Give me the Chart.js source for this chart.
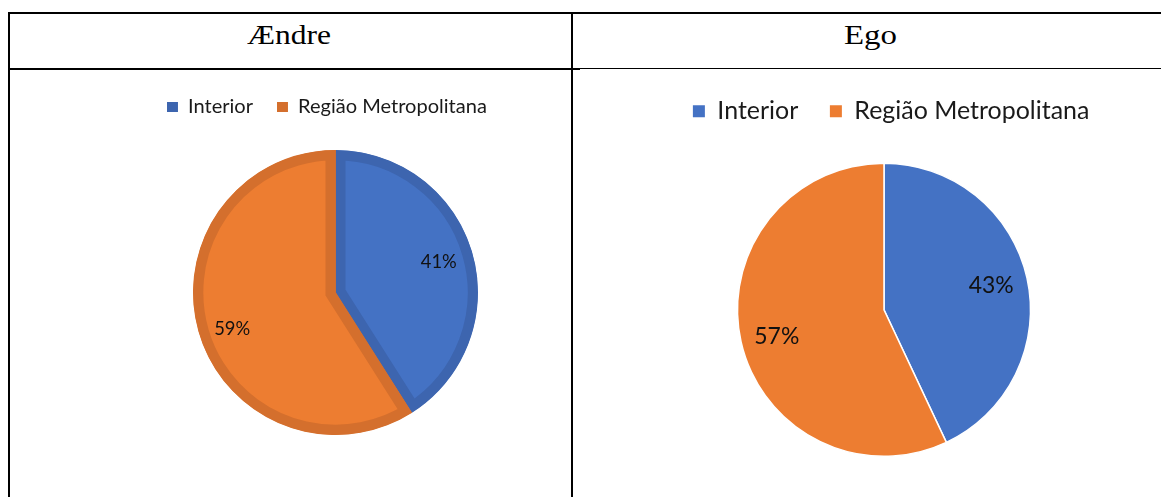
<!DOCTYPE html>
<html>
<head>
<meta charset="utf-8">
<script src="https://cdn.jsdelivr.net/npm/chart.js@4.4.0/dist/chart.umd.min.js"></script>
<style>
    body { margin: 0; background: #fff; width: 1161px; height: 497px; overflow: hidden; position: relative; }
    .ln { position: absolute; background: #000; }
    .hd { position: absolute; font-family: 'Liberation Serif', serif; font-size: 28px; color: #000; white-space: nowrap; transform-origin: 0 0; }
    canvas { position: absolute; }
</style>
</head>
<body>
<div class="ln" style="left:8px;top:12px;width:1153px;height:2px"></div>
<div class="ln" style="left:8px;top:12px;width:2px;height:485px"></div>
<div class="ln" style="left:571px;top:12px;width:2px;height:485px"></div>
<div class="ln" style="left:8px;top:68px;width:572px;height:2px"></div>
<div class="ln" style="left:580px;top:68px;width:581px;height:1px"></div>
<div class="hd" id="title-0"></div>
<div class="hd" id="title-1"></div>
<canvas id="chart-aendre"></canvas>
<canvas id="chart-ego"></canvas>
<script>
// Chart data
const categories = ['Interior', 'Região Metropolitana'];
const panelTitles = ['Ændre', 'Ego'];
const aendreValues = [41, 59];
const egoValues = [43, 57];

const fillColors = ['#4472C4', '#ED7D31'];
const edgeColors = ['#3D65AF', '#D46F2D'];

const measureCtx = document.createElement('canvas').getContext('2d');

function textWidth(text, size, family) {
    measureCtx.font = size + 'px ' + family;
    return measureCtx.measureText(text).width;
}

// font size that gives a text the wanted width
function fitSize(text, target, family) {
    return 100 * target / textWidth(text, 100, family);
}

// Percentage labels in the slices
const pctLabels = {
    id: 'pctLabels',
    afterDatasetsDraw(chart, args, opts) {
        const ctx = chart.ctx;
        const meta = chart.getDatasetMeta(0);
        const data = chart.data.datasets[0].data;
        const total = data.reduce((a, b) => a + b, 0);
        ctx.save();
        ctx.font = opts.size + 'px ' + opts.family;
        ctx.fillStyle = opts.color;
        ctx.textAlign = 'center';
        ctx.textBaseline = 'middle';
        meta.data.forEach((arc, i) => {
            const p = arc.getProps(['x', 'y', 'startAngle', 'endAngle', 'outerRadius'], true);
            const mid = (p.startAngle + p.endAngle) / 2;
            const r = p.outerRadius * opts.pos;
            ctx.fillText(Math.round(data[i] / total * 100) + '%', p.x + Math.cos(mid) * r, p.y + Math.sin(mid) * r + (i ? opts.shift : 0));
        });
        ctx.restore();
    }
};

function placeTitle(i, centerX, baseline, width) {
    const el = document.getElementById('title-' + i);
    el.textContent = panelTitles[i];
    const natural = textWidth(panelTitles[i], 28, "'Liberation Serif'");
    const sx = width / natural;
    el.style.left = (centerX - width / 2) + 'px';
    el.style.top = (baseline - 0.891 * 28) + 'px';
    el.style.transform = 'scaleX(' + sx + ')';
}

function buildPanel(id, values, cfg) {
    const family = 'Lato';
    const F = fitSize(categories[1], cfg.nameWidth, family);
    const w0 = textWidth(categories[0], F, family);
    const w1 = textWidth(categories[1], F, family);
    const pad = cfg.box2X - (cfg.legendX + cfg.boxW + F / 2 + w0);
    let half;
    if (cfg.align === 'start') {
        half = cfg.cx - (cfg.legendX - pad);
    } else {
        const it = 2 * cfg.boxW + F + w0 + w1;
        half = cfg.legendX + it + 2 * pad - cfg.cx;
    }
    const left = Math.round(cfg.cx - half);
    const width = Math.round(2 * half);
    const top = Math.round(cfg.textY - pad - F / 2);
    const areaTop = top + pad + F + 10;
    const height = Math.round(2 * cfg.cy - areaTop) - top;

    const canvas = document.getElementById(id);
    canvas.width = width;
    canvas.height = height;
    canvas.style.left = left + 'px';
    canvas.style.top = top + 'px';

    const labelSize = fitSize(values[0] + '%', cfg.labelWidth, family);

    return new Chart(canvas, {
        type: 'pie',
        data: {
            labels: categories,
            datasets: [{
                data: values,
                backgroundColor: fillColors,
                borderColor: cfg.borderColors,
                borderWidth: cfg.borderWidth,
                borderAlign: cfg.borderAlign,
                borderJoinStyle: 'miter',
                radius: cfg.r
            }]
        },
        options: {
            responsive: false,
            animation: false,
            events: [],
            layout: { padding: 0 },
            plugins: {
                legend: {
                    position: 'top',
                    align: cfg.align,
                    labels: {
                        font: { family: family, size: F },
                        color: '#1a1a1a',
                        boxWidth: cfg.boxW,
                        boxHeight: cfg.boxH,
                        padding: pad,
                        generateLabels(chart) {
                            const items = Chart.overrides.pie.plugins.legend.labels.generateLabels(chart);
                            return items.map((it, i) => Object.assign(it, {
                                fillStyle: cfg.legendColors[i],
                                strokeStyle: 'rgba(0,0,0,0)',
                                lineWidth: 0
                            }));
                        }
                    }
                },
                tooltip: { enabled: false },
                pctLabels: { family: family, size: labelSize, color: '#111', pos: cfg.labelPos, shift: cfg.labelShift }
            }
        },
        plugins: [pctLabels]
    });
}

placeTitle(0, 289, 43.5, 84);
placeTitle(1, 870, 43.5, 53);

buildPanel('chart-aendre', aendreValues, {
    cx: 335.5, cy: 292.5, r: 142.5,
    legendX: 167, box2X: 277, textY: 107, boxW: 11, boxH: 10,
    nameWidth: 189, align: 'start',
    labelWidth: 36, labelPos: 0.755, labelShift: 7,
    borderColors: edgeColors, borderWidth: 10, borderAlign: 'inner',
    legendColors: edgeColors
});

buildPanel('chart-ego', egoValues, {
    cx: 884, cy: 310, r: 146.5,
    legendX: 693, box2X: 830, textY: 111, boxW: 12, boxH: 12,
    nameWidth: 235, align: 'end',
    labelWidth: 45, labelPos: 0.75, labelShift: 3,
    borderColors: '#ffffff', borderWidth: 1.5, borderAlign: 'center',
    legendColors: fillColors
});
</script>
</body>
</html>
